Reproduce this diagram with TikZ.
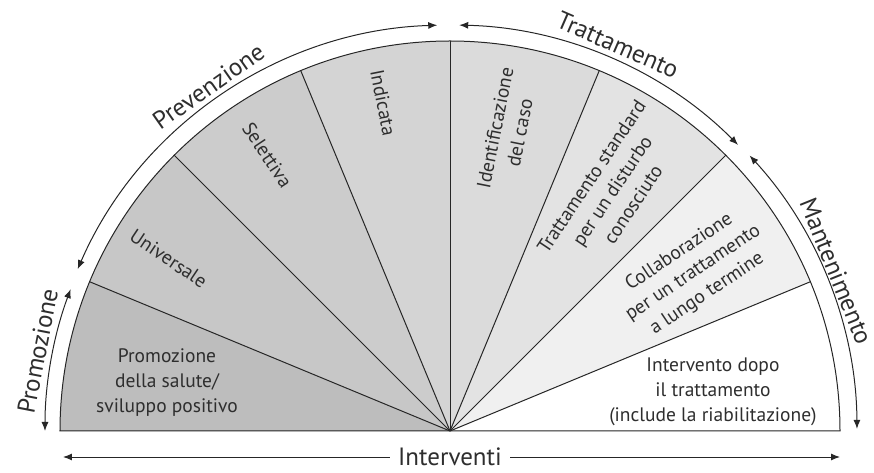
\documentclass[tikz,border=0pt]{standalone}
\usepackage{fontspec}
\setmainfont{PT Sans}
\usetikzlibrary{arrows.meta}
\tikzset{>={Latex[length=9pt,width=7pt]}}
\definecolor{sliceA}{gray}{0.74}
\definecolor{sliceB}{gray}{0.78}
\definecolor{sliceC}{gray}{0.80}
\definecolor{sliceD}{gray}{0.83}
\definecolor{sliceE}{gray}{0.86}
\definecolor{sliceF}{gray}{0.89}
\definecolor{sliceG}{gray}{0.94}
\definecolor{sliceH}{gray}{1.00}
\definecolor{inktext}{gray}{0.18}

\begin{document}
\begin{tikzpicture}[x=1pt,y=1pt,
		spoke/.style={line width=1pt,black!85},
		band/.style={<->,line width=1pt,black!85},
		sect/.style={font=\fontsize{19.5}{25}\selectfont,align=center,text=inktext},
		phase/.style={font=\fontsize{25}{28}\selectfont,text=inktext,inner sep=1pt}]
			\useasboundingbox (-450,-42) rectangle (424,431);
			\coordinate (o) at (0,0);
			% slices of the fan
			\foreach \i/\c in {0/sliceA,1/sliceB,2/sliceC,3/sliceD,4/sliceE,5/sliceF,6/sliceG,7/sliceH}
				\fill[\c] (o) -- ({180-22.5*\i}:390) arc[start angle={180-22.5*\i},end angle={157.5-22.5*\i},radius=390] -- cycle;
			\foreach \a in {22.5,45,...,157.5}
				\draw[spoke] (o) -- (\a:390);
			\draw[spoke] (-390,0) arc[start angle=180,end angle=0,radius=390] -- cycle;
			% texts in the slices
			\node[sect] (salute) at (-283,48) {Promozione\\della salute/\\sviluppo positivo};
			\node[sect,rotate=-33.75] (univ) at (148.5:330) {Universale};
			\node[sect,rotate=-56.25] (selet) at (123.5:331) {Selettiva};
			\node[sect,rotate=-78.75] (indic) at (101.5:335) {Indicata};
			\node[sect,rotate=78.75] (ident) at (79.2:306) {Identificazione\\del caso};
			\node[sect,rotate=56.25] (stand) at (56:290) {Trattamento standard\\per un disturbo\\conosciuto};
			\node[sect,rotate=33.75] (collab) at (33:290) {Collaborazione\\per un trattamento\\a lungo termine};
			\node[sect] (dopo) at (263,39) {Intervento dopo\\il trattamento\\(include la riabilitazione)};
			% phases round the rim
			\draw[band] (180:405) arc[start angle=180,end angle=159.5,radius=405];
			\draw[band] (156.5:406) arc[start angle=156.5,end angle=91.8,radius=406];
			\draw[band] (88.7:406) arc[start angle=88.7,end angle=44.8,radius=406];
			\draw[band] (42.6:407) arc[start angle=42.6,end angle=0.3,radius=407];
			\node[phase,rotate=79] (promo) at (169:420) {Promozione};
			\node[phase,rotate=35] (preven) at (125:421) {Prevenzione};
			\node[phase,rotate=-23.5] (tratt) at (66.5:421) {Trattamento};
			\node[phase,rotate=-68] (mant) at (22.5:418) {Mantenimento};
			% bottom axis
			\node[phase,fill=white,inner xsep=8pt] (interv) at (0,-26) {Interventi};
			\coordinate (axisL) at (-387,-26);
			\coordinate (axisR) at (390,-26);
			\draw[->,line width=1pt,black!85] (interv) -- (axisL);
			\draw[->,line width=1pt,black!85] (interv) -- (axisR);
		\end{tikzpicture}
\end{document}
